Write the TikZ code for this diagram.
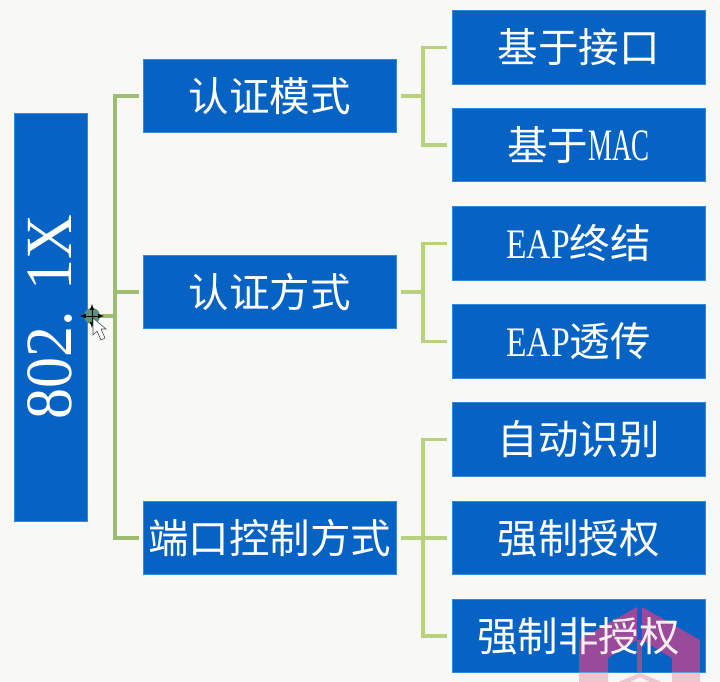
\documentclass[tikz,border=0pt]{standalone}
\usepackage{fontspec}
\setmainfont{Noto Sans CJK SC}
\newfontfamily\rootfont[FakeStretch=0.94]{Liberation Serif}
\newfontfamily\eapfont[FakeStretch=0.8]{Liberation Serif}
\newfontfamily\macfont[FakeStretch=0.6]{Liberation Serif}
\definecolor{boxblue}{HTML}{0763C3}
\definecolor{boxedge}{HTML}{2F8BDD}
\definecolor{pagegray}{HTML}{F8F8F6}
\definecolor{leftgreen}{HTML}{9DBD72}
\definecolor{rightgreen}{HTML}{B7D17C}
\definecolor{markpurple}{HTML}{751586}
\definecolor{markpink}{HTML}{EFC6CE}
\definecolor{cursorgreen}{HTML}{5E8F78}
\newcommand{\markshape}[1]{%
  \fill[#1] (0.5,46) -- (0.5,4) -- (58.5,-29) -- (58.5,4) -- (29.5,22) -- (29.5,46) -- cycle;
  \fill[#1] (63.5,-29) -- (121.5,4) -- (121.5,46) -- (93.5,46) -- (93.5,22) -- (63.5,4) -- cycle;
  \fill[#1] (58.5,4) rectangle (63.5,36);
  \fill[#1] (61.5,37) -- (83.5,46) -- (71.5,46) -- (61.5,41) -- (51.5,46) -- (39.5,46) -- cycle;
}
\tikzset{
  itembox/.style={draw=boxedge,line width=.6pt,fill=boxblue,text=white,inner sep=0pt,
    minimum width=253pt,minimum height=73.5pt,font=\fontsize{40.5}{40.5}\selectfont},
  trunkline/.style={draw=leftgreen,line width=3.2pt},
  leafline/.style={draw=rightgreen,line width=3.2pt}
}
\begin{document}
\begin{tikzpicture}[x=1pt,y=-1pt]
  \fill[pagegray] (0,0) rectangle (720,682);
  \useasboundingbox (0,0) rectangle (720,682);

  % watermark, pink on the page and purple on the last box
  \begin{scope}[shift={(578.5,636)}]
    \markshape{markpink}
    \fill[boxblue] (-126.5,-36.75) rectangle (126.5,36.75);
    \begin{scope}
      \clip (-126.5,-36.75) rectangle (126.5,36.75);
      \markshape{markpurple}
    \end{scope}
  \end{scope}

  \begin{scope}[every node/.style={itembox}]
    \node[minimum width=73pt,minimum height=408pt] (root) at (50.5,317)
      {\rotatebox{90}{\fontsize{66}{66}\rootfont 802. 1X}};
    \node (auth)   at (269.5,96)  {认证模式};
    \node (method) at (269.5,292) {认证方式};
    \node (port)   at (269.5,538) {端口控制方式};

    \node (iface) at (578.5,47.5)  {基于接口};
    \node (mac)   at (578.5,145)   {基于{\fontsize{45}{45}\macfont MAC}};
    \node (term)  at (578.5,243.5) {{\fontsize{42}{42}\eapfont EAP}终结};
    \node (relay) at (578.5,341.5) {{\fontsize{42}{42}\eapfont EAP}透传};
    \node (auto)  at (578.5,439.5) {自动识别};
    \node (force) at (578.5,538)   {强制授权};
    \node[fill=none] (deny) at (578.5,636) {强制非授权};
  \end{scope}

  \coordinate (hub) at (115,316);
  \coordinate (authfork) at (423,96);
  \coordinate (methodfork) at (423,292);
  \coordinate (portfork) at (423,538);

  \draw[trunkline] (root.east |- hub) -- (hub);
  \draw[trunkline,shorten >=4pt] (hub) |- (auth);
  \draw[trunkline,shorten >=4pt] (hub) |- (port);
  \draw[trunkline,shorten >=4pt] (hub) |- (method);

  \draw[leafline,shorten <=5pt] (auth.east) -- (authfork);
  \draw[leafline,shorten >=5pt] (authfork) |- (iface);
  \draw[leafline,shorten >=5pt] (authfork) |- (mac);

  \draw[leafline,shorten <=5pt] (method.east) -- (methodfork);
  \draw[leafline,shorten >=5pt] (methodfork) |- (term);
  \draw[leafline,shorten >=5pt] (methodfork) |- (relay);

  \draw[leafline,shorten <=5pt] (port.east) -- (portfork);
  \draw[leafline,shorten >=5pt] (portfork) |- (auto);
  \draw[leafline,shorten >=5pt] (portfork) -- (force);
  \draw[leafline,shorten >=5pt] (portfork) |- (deny);

  % tint of the watermark over the text
  \begin{scope}[shift={(578.5,636)}]
    \clip (-126.5,-36.75) rectangle (126.5,36.75);
    \markshape{markpink,fill opacity=.3}
  \end{scope}

  % cursor
  \fill[cursorgreen] (92,316) circle (8pt);
  \draw[black,line width=1pt,<->,>=latex] (80,316) -- (104,316);
  \draw[black,line width=1pt,<->,>=latex] (92,304) -- (92,328);
  \draw[black!70,fill=white,line width=.6pt] (93,318) -- (93,335) -- (97,331) -- (101,340) -- (105,338)
    -- (101,329) -- (106,329) -- cycle;
\end{tikzpicture}
\end{document}
